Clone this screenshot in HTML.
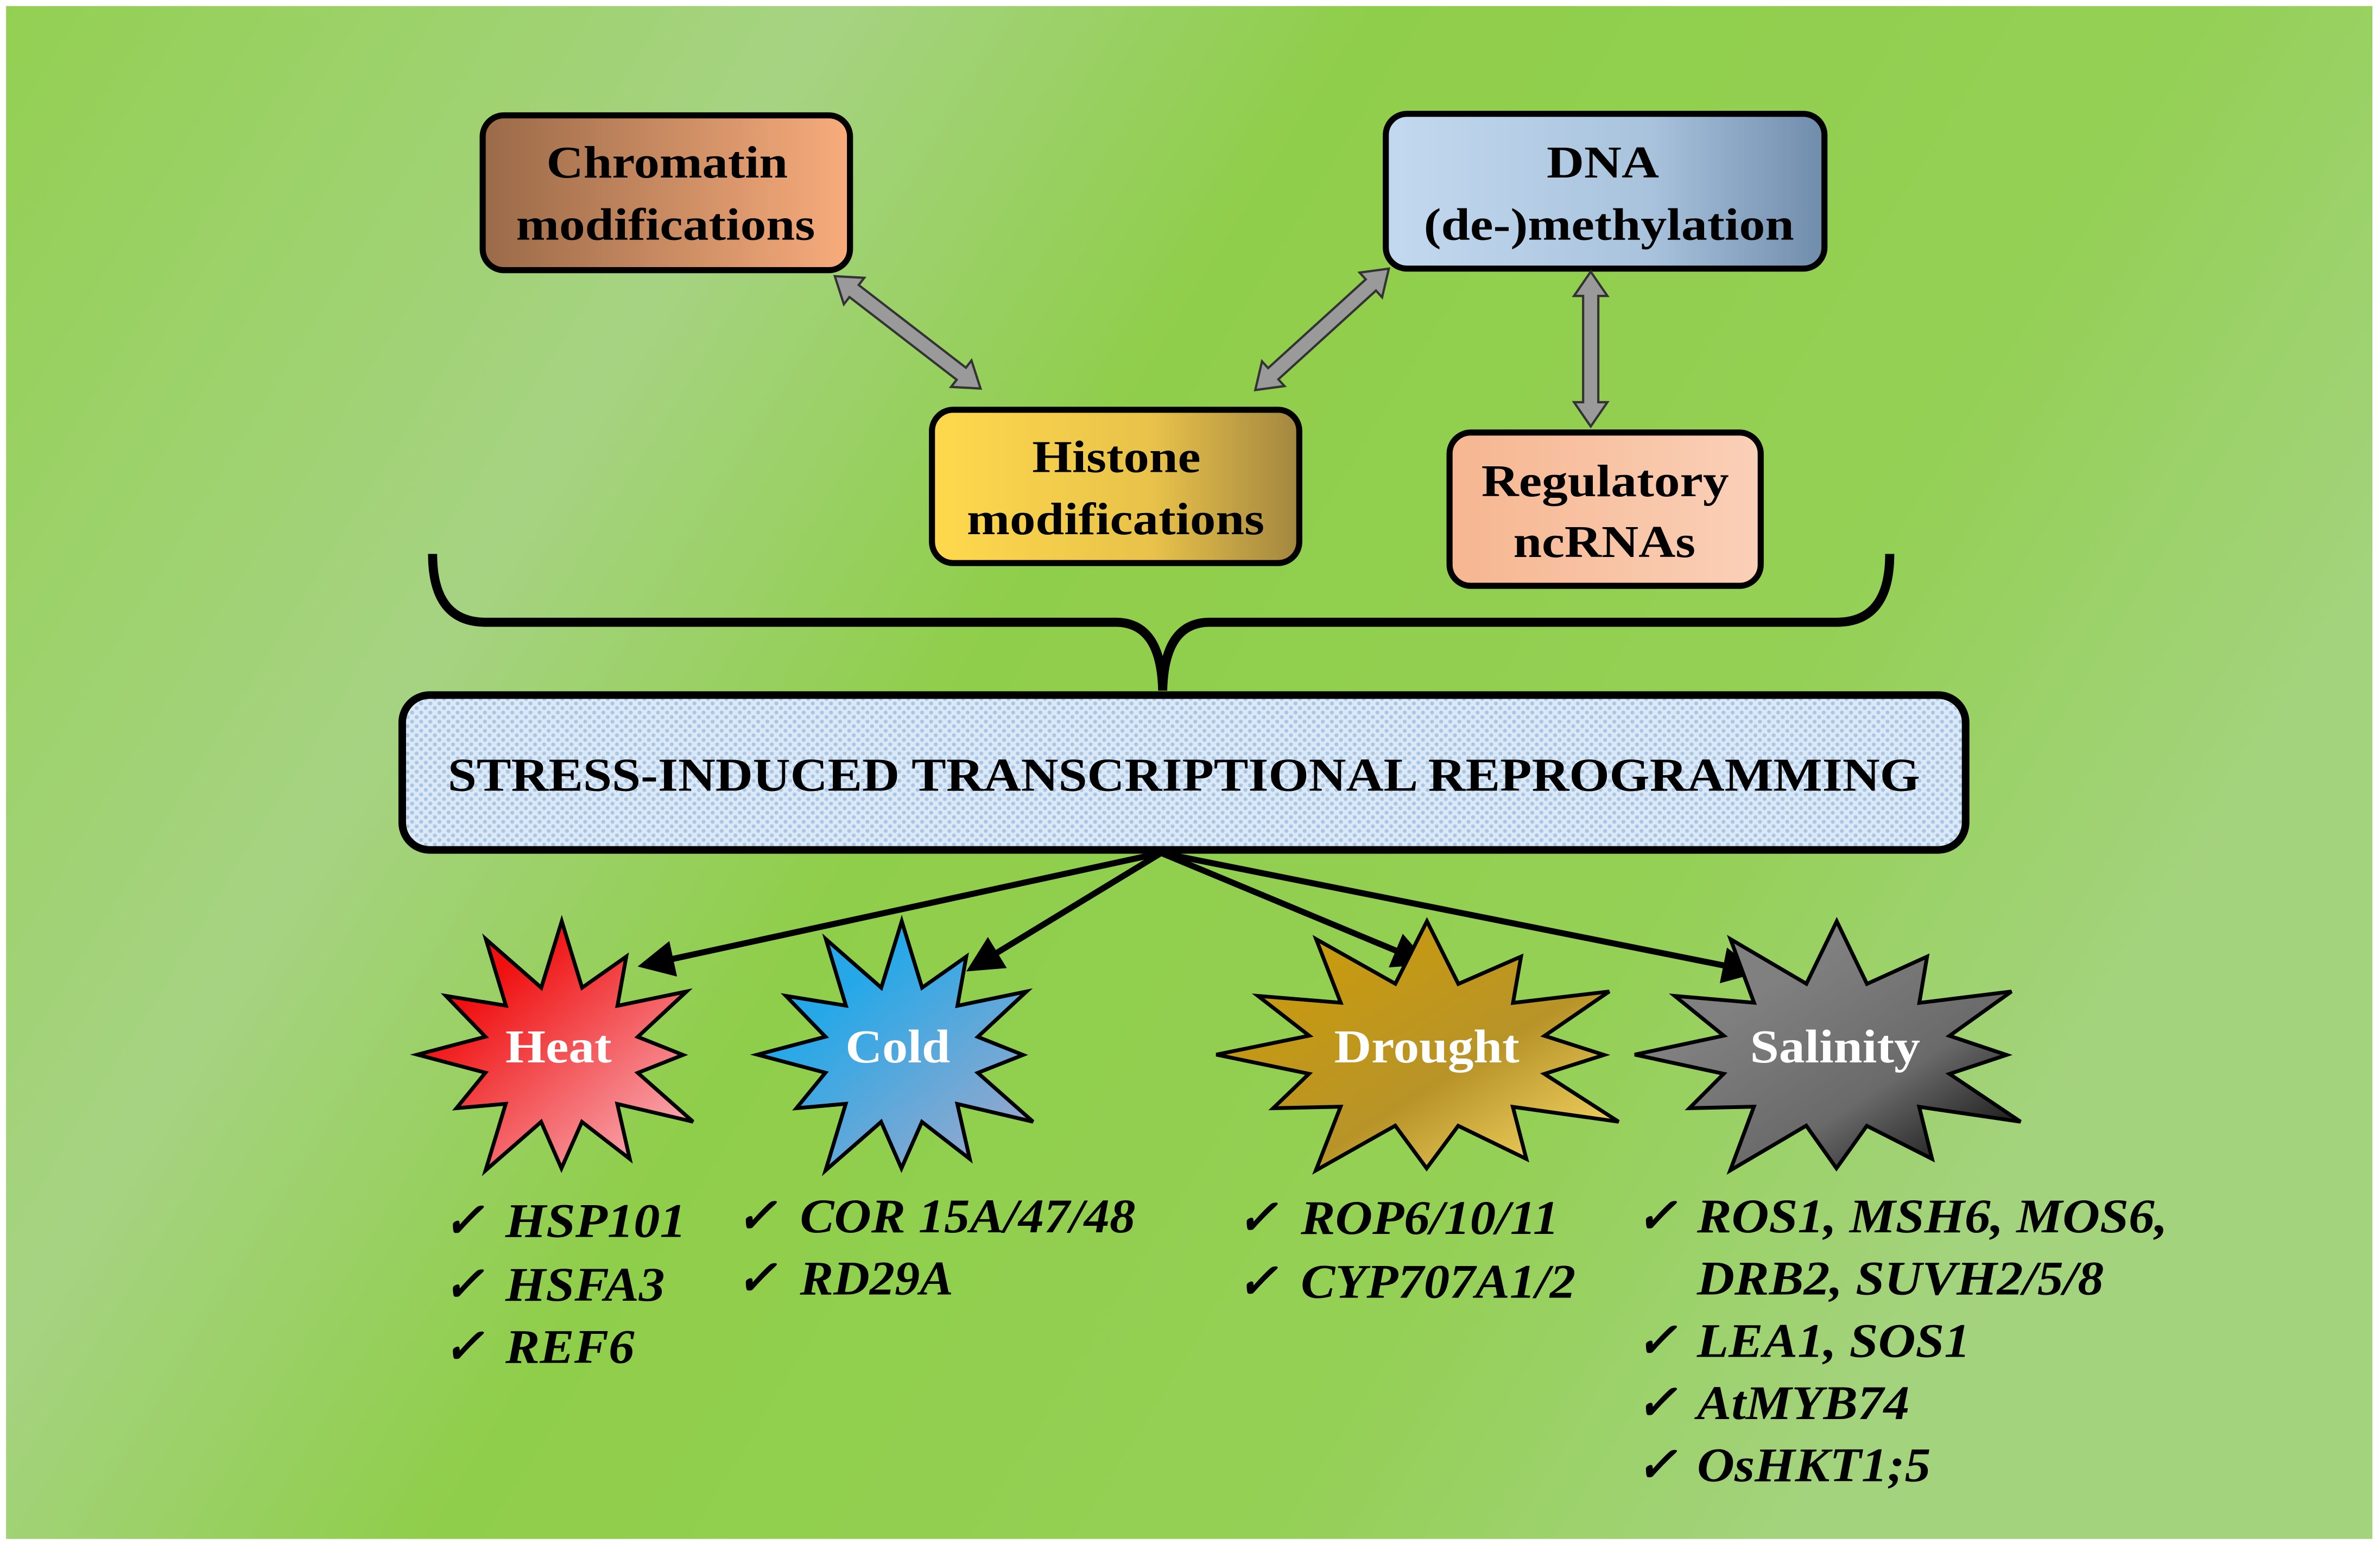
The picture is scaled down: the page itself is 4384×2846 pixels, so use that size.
<!DOCTYPE html>
<html><head><meta charset="utf-8"><style>
html,body{margin:0;padding:0;background:#fff;}
svg{display:block;}
text{font-family:"Liberation Serif",serif;font-weight:bold;}
</style></head><body>
<svg id="s" width="4384" height="2846" viewBox="0 0 1568 1018" preserveAspectRatio="none" xmlns="http://www.w3.org/2000/svg">
<defs>
<linearGradient id="bg" x1="0" y1="0" x2="1" y2="0.4">
<stop offset="0" stop-color="#93d052"/>
<stop offset="0.3" stop-color="#a6d382"/>
<stop offset="0.5" stop-color="#8fce4a"/>
<stop offset="0.8" stop-color="#94d055"/>
<stop offset="1" stop-color="#a4d37e"/>
</linearGradient>
<linearGradient id="gChrom" x1="0" x2="1"><stop offset="0" stop-color="#9a6a48"/><stop offset="1" stop-color="#f8ac7c"/></linearGradient>
<linearGradient id="gDna" x1="0" x2="1"><stop offset="0" stop-color="#c3d9ef"/><stop offset="0.6" stop-color="#a9c3dd"/><stop offset="1" stop-color="#6f8cab"/></linearGradient>
<linearGradient id="gHis" x1="0" x2="1"><stop offset="0" stop-color="#ffd94c"/><stop offset="0.6" stop-color="#e8c24a"/><stop offset="1" stop-color="#a28640"/></linearGradient>
<linearGradient id="gReg" x1="0" x2="1"><stop offset="0" stop-color="#f6b690"/><stop offset="1" stop-color="#fad0b8"/></linearGradient>
<linearGradient id="gHeat" x1="0" y1="0" x2="1" y2="1"><stop offset="0.25" stop-color="#f01010"/><stop offset="1" stop-color="#f8c0c8"/></linearGradient>
<linearGradient id="gCold" x1="0" y1="0" x2="1" y2="1"><stop offset="0.3" stop-color="#26a8e8"/><stop offset="1" stop-color="#a8a8c8"/></linearGradient>
<linearGradient id="gDr" x1="0" y1="0" x2="1" y2="1"><stop offset="0.2" stop-color="#c89a10"/><stop offset="0.6" stop-color="#b89428"/><stop offset="1" stop-color="#ffe070"/></linearGradient>
<linearGradient id="gSal" x1="0" y1="0" x2="1" y2="1"><stop offset="0.3" stop-color="#808080"/><stop offset="0.65" stop-color="#6a6a6a"/><stop offset="1" stop-color="#000"/></linearGradient>
<pattern id="chk" width="6" height="6" patternUnits="userSpaceOnUse">
<rect width="6" height="6" fill="#dbe9f6"/><circle cx="1.5" cy="1.5" r="1.3" fill="#a9c6e4"/><circle cx="4.5" cy="4.5" r="1.3" fill="#a9c6e4"/>
</pattern>
<marker id="ah" markerWidth="6" markerHeight="6" refX="5" refY="3" orient="auto" markerUnits="strokeWidth"><path d="M0,0 L6,3 L0,6 Z" fill="#000"/></marker>
</defs>
<rect x="0" y="0" width="1568" height="1018" fill="#fff"/>
<rect x="4" y="4" width="1559" height="1010" fill="url(#bg)"/>

<g font-size="30" text-anchor="start" lengthAdjust="spacingAndGlyphs">
<rect x="318" y="76" width="242" height="102" rx="14" fill="url(#gChrom)" stroke="#000" stroke-width="4"/>
<text x="360" y="117" textLength="159" lengthAdjust="spacingAndGlyphs">Chromatin</text>
<text x="340" y="158" textLength="197" lengthAdjust="spacingAndGlyphs">modifications</text>

<rect x="913" y="75" width="289" height="102" rx="14" fill="url(#gDna)" stroke="#000" stroke-width="4"/>
<text x="1019" y="117" textLength="74" lengthAdjust="spacingAndGlyphs">DNA</text>
<text x="938" y="158" textLength="244" lengthAdjust="spacingAndGlyphs">(de-)methylation</text>

<rect x="614" y="270" width="242" height="101" rx="14" fill="url(#gHis)" stroke="#000" stroke-width="4"/>
<text x="680" y="311" textLength="111" lengthAdjust="spacingAndGlyphs">Histone</text>
<text x="637" y="352" textLength="196" lengthAdjust="spacingAndGlyphs">modifications</text>

<rect x="955" y="285" width="205" height="101" rx="14" fill="url(#gReg)" stroke="#000" stroke-width="4"/>
<text x="976" y="327" textLength="163" lengthAdjust="spacingAndGlyphs">Regulatory</text>
<text x="997" y="367" textLength="120" lengthAdjust="spacingAndGlyphs">ncRNAs</text>
</g>

<g fill="#9a9a9a" stroke="#333" stroke-width="1.5" id="dbl"></g>

<path d="M285,365 Q285,410 320,410 L735,410 Q765,410 766,455 Q767,410 797,410 L1210,410 Q1245,410 1245,365" fill="none" stroke="#000" stroke-width="6"/>

<rect x="265" y="458" width="1030" height="102" rx="18" fill="url(#chk)" stroke="#000" stroke-width="5"/>
<text x="295" y="521" font-size="31" textLength="970" lengthAdjust="spacingAndGlyphs">STRESS-INDUCED TRANSCRIPTIONAL REPROGRAMMING</text>

<g stroke="#000" stroke-width="4" marker-end="url(#ah)" fill="none">
<line x1="765" y1="562" x2="424" y2="636"/>
<line x1="765" y1="562" x2="640" y2="638"/>
<line x1="765" y1="562" x2="938" y2="634"/>
<line x1="765" y1="562" x2="1155" y2="640"/>
</g>

<g id="stars"></g>

<g font-size="31" fill="#fff">
<text x="333" y="700" textLength="70" lengthAdjust="spacingAndGlyphs">Heat</text>
<text x="557" y="700" textLength="69" lengthAdjust="spacingAndGlyphs">Cold</text>
<text x="879" y="700" textLength="122" lengthAdjust="spacingAndGlyphs">Drought</text>
<text x="1153" y="700" textLength="112" lengthAdjust="spacingAndGlyphs">Salinity</text>
</g>

<g font-size="32" font-style="italic" fill="#000">
<text x="292" y="815">✓</text><text x="333" y="815" textLength="119" lengthAdjust="spacingAndGlyphs">HSP101</text>
<text x="292" y="857">✓</text><text x="333" y="857" textLength="105" lengthAdjust="spacingAndGlyphs">HSFA3</text>
<text x="292" y="898">✓</text><text x="333" y="898" textLength="85" lengthAdjust="spacingAndGlyphs">REF6</text>
<text x="485" y="812">✓</text><text x="527" y="812" textLength="221" lengthAdjust="spacingAndGlyphs">COR 15A/47/48</text>
<text x="485" y="853">✓</text><text x="527" y="853" textLength="101" lengthAdjust="spacingAndGlyphs">RD29A</text>
<text x="815" y="813">✓</text><text x="857" y="813" textLength="170" lengthAdjust="spacingAndGlyphs">ROP6/10/11</text>
<text x="815" y="855">✓</text><text x="857" y="855" textLength="181" lengthAdjust="spacingAndGlyphs">CYP707A1/2</text>
<text x="1078" y="812">✓</text><text x="1118" y="812" textLength="310" lengthAdjust="spacingAndGlyphs">ROS1, MSH6, MOS6,</text>
<text x="1118" y="853" textLength="268" lengthAdjust="spacingAndGlyphs">DRB2, SUVH2/5/8</text>
<text x="1078" y="894">✓</text><text x="1118" y="894" textLength="180" lengthAdjust="spacingAndGlyphs">LEA1, SOS1</text>
<text x="1078" y="935">✓</text><text x="1118" y="935" textLength="140" lengthAdjust="spacingAndGlyphs">AtMYB74</text>
<text x="1078" y="976">✓</text><text x="1118" y="976" textLength="154" lengthAdjust="spacingAndGlyphs">OsHKT1;5</text>
</g>
</svg>
<script>
var NS="http://www.w3.org/2000/svg";
function dbl(x1,y1,x2,y2){
 var dx=x2-x1,dy=y2-y1,L=Math.hypot(dx,dy),ux=dx/L,uy=dy/L,nx=-uy,ny=ux;
 var h=16,w=5,hw=11;
 function P(a,b){return [x1+ux*a+nx*b,y1+uy*a+ny*b].join(",");}
 var pts=[P(0,0),P(h,hw),P(h,w),P(L-h,w),P(L-h,hw),P(L,0),P(L-h,-hw),P(L-h,-w),P(h,-w),P(h,-hw)];
 var p=document.createElementNS(NS,"polygon");p.setAttribute("points",pts.join(" "));
 document.getElementById("dbl").appendChild(p);
}
dbl(550,182,646,256);dbl(915,177,827,257);dbl(1048,179,1048,281);
function star(cx,cy,rx,ry,n,outer,inner,fill,rot){
 var pts=[];
 for(var i=0;i<2*n;i++){
  var a=rot+Math.PI*i/n;
  var r=(i%2==0)?outer[(i/2)%outer.length]:inner;
  pts.push((cx+Math.cos(a)*rx*r).toFixed(1)+","+(cy+Math.sin(a)*ry*r).toFixed(1));
 }
 var p=document.createElementNS(NS,"polygon");p.setAttribute("points",pts.join(" "));
 p.setAttribute("fill",fill);p.setAttribute("stroke","#000");p.setAttribute("stroke-width","2.5");
 document.getElementById("stars").appendChild(p);
}
var o=[1,0.85,0.95,0.8,1,0.9,0.85,1,0.8,0.95,0.88,1];
star(370,695,100,88,12,o,0.52,"url(#gHeat)",-1.57);
star(594,695,100,88,12,o,0.52,"url(#gCold)",-1.57);
star(940,695,146,88,12,o,0.55,"url(#gDr)",-1.57);
star(1210,695,140,88,12,o,0.55,"url(#gSal)",-1.57);
</script>
</body></html>
